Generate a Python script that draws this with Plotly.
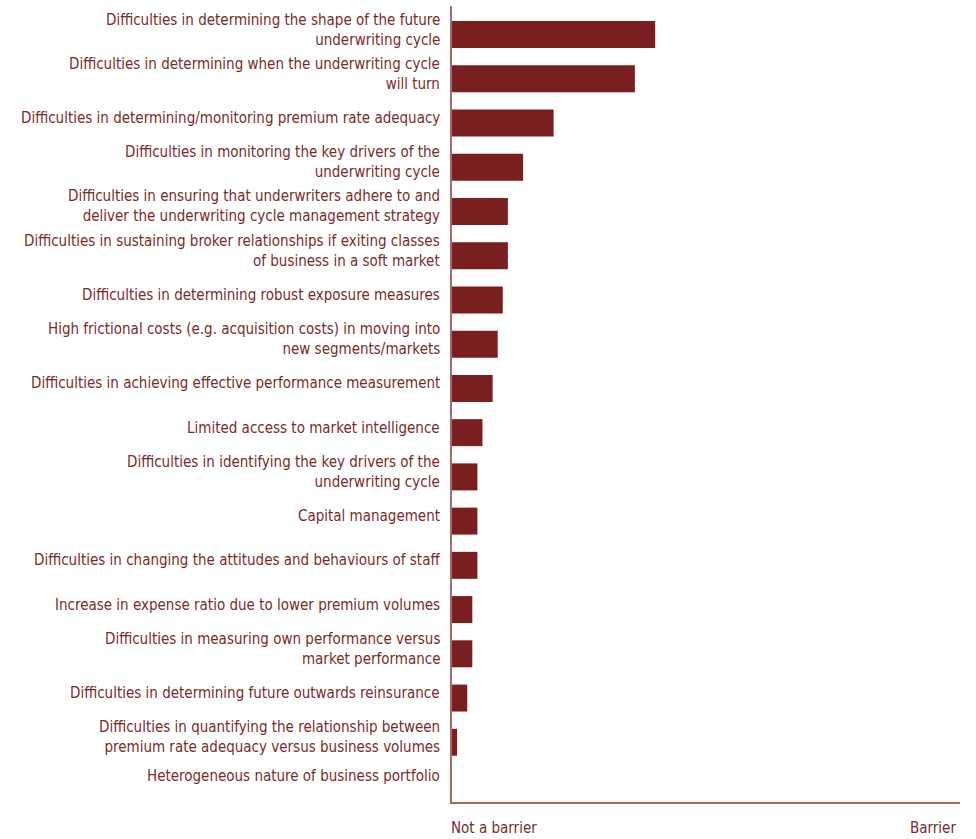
import plotly.graph_objects as go

# Barriers to underwriting cycle management, most significant first
barriers = [
    "Difficulties in determining the shape of the future<br>underwriting cycle",
    "Difficulties in determining when the underwriting cycle<br>will turn",
    "Difficulties in determining/monitoring premium rate adequacy",
    "Difficulties in monitoring the key drivers of the<br>underwriting cycle",
    "Difficulties in ensuring that underwriters adhere to and<br>deliver the underwriting cycle management strategy",
    "Difficulties in sustaining broker relationships if exiting classes<br>of business in a soft market",
    "Difficulties in determining robust exposure measures",
    "High frictional costs (e.g. acquisition costs) in moving into<br>new segments/markets",
    "Difficulties in achieving effective performance measurement",
    "Limited access to market intelligence",
    "Difficulties in identifying the key drivers of the<br>underwriting cycle",
    "Capital management",
    "Difficulties in changing the attitudes and behaviours of staff",
    "Increase in expense ratio due to lower premium volumes",
    "Difficulties in measuring own performance versus<br>market performance",
    "Difficulties in determining future outwards reinsurance",
    "Difficulties in quantifying the relationship between<br>premium rate adequacy versus business volumes",
    "Heterogeneous nature of business portfolio",
]
scores = [40, 36, 20, 14, 11, 11, 10, 9, 8, 6, 5, 5, 5, 4, 4, 3, 1, 0]

scale_ends = [0, 100]
scale_labels = ["Not a barrier", "Barrier"]

BAR = "#7a1f20"
TEXT = "#7a2a2b"
AXIS = "#a86a6b"
FONT = "DejaVu Sans Condensed, Liberation Sans Narrow, sans-serif"
FSIZE = 15

positions = list(range(len(barriers)))

fig = go.Figure(
    go.Bar(
        x=scores,
        y=positions,
        orientation="h",
        width=0.61,
        marker=dict(color=BAR, line=dict(width=0)),
        hoverinfo="skip",
    )
)

# Category labels, right-aligned against the vertical axis
last = positions[-1]
for pos, label in zip(positions, barriers):
    fig.add_annotation(
        x=0, xref="paper", y=pos, yref="y",
        text=label, showarrow=False,
        xanchor="right", yanchor="middle", align="right",
        xshift=-10, yshift=5 if pos < last else 11,
        font=dict(family=FONT, size=FSIZE, color=TEXT),
    )

# Scale end labels below the horizontal axis
for val, lab, anchor in zip(scale_ends, scale_labels, ["left", "right"]):
    fig.add_annotation(
        x=val, xref="x", y=0, yref="paper",
        text=lab, showarrow=False,
        xanchor=anchor, yanchor="top", yshift=-15,
        xshift=-3 if anchor == "left" else -2,
        font=dict(family=FONT, size=FSIZE, color=TEXT),
    )

fig.update_xaxes(
    range=scale_ends,
    showgrid=False, zeroline=False,
    showline=True, linecolor=AXIS, linewidth=2,
    tickvals=scale_ends, ticktext=["", ""],
    ticks="inside", ticklen=20, tickwidth=2, tickcolor="#6e1c1d",
)
fig.update_yaxes(
    range=[17.35, -0.645],
    showgrid=False, zeroline=False,
    showline=True, linecolor=AXIS, linewidth=2,
    showticklabels=False, ticks="",
)

fig.update_layout(
    width=976, height=839,
    margin=dict(l=452, r=16, t=6, b=37),
    paper_bgcolor="white", plot_bgcolor="white",
    showlegend=False,
)

fig.write_html("out.html")
